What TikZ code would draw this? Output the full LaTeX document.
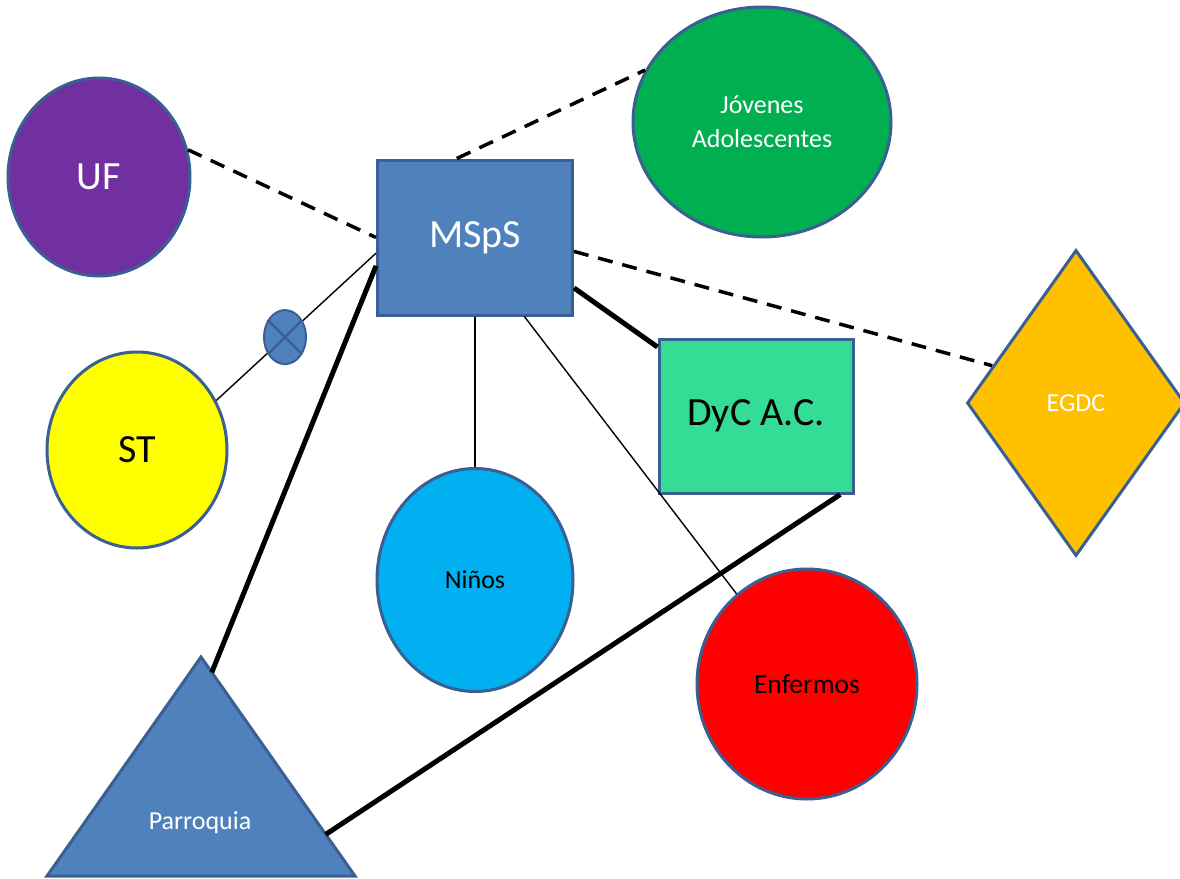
\documentclass[tikz,border=0pt]{standalone}
\usepackage{fontspec}
\setmainfont{Carlito}
\usetikzlibrary{shapes.geometric,calc}
\definecolor{bordc}{HTML}{3A5F93}
\definecolor{ufc}{HTML}{7030A0}
\definecolor{jovc}{HTML}{00B050}
\definecolor{mspc}{HTML}{4F81BD}
\definecolor{egdc}{HTML}{FFC000}
\definecolor{dycc}{HTML}{34DC96}
\definecolor{stc}{HTML}{FFFF00}
\definecolor{ninc}{HTML}{00B0F0}
\definecolor{enfc}{HTML}{FF0000}
\tikzset{
  shapebox/.style={draw=bordc, line width=3pt, inner sep=0pt},
  ell/.style={shapebox, ellipse},
  rectbox/.style={shapebox, rectangle},
  bigtxt/.style={font=\fontsize{40}{48}\selectfont},
  smalltxt/.style={font=\fontsize{26}{34}\selectfont},
  dashline/.style={line width=3.5pt, dash pattern=on 15pt off 10pt},
  thinline/.style={line width=1.4pt},
  thickline/.style={line width=5pt},
}
\begin{document}
\begin{tikzpicture}[x=1pt,y=-1pt]
\useasboundingbox (0,0) rectangle (1180,878);
% nodes
\node[ell, fill=ufc, minimum width=182, minimum height=198, text=white, bigtxt] (UF) at (99,177) {UF};
\node[ell, fill=jovc, minimum width=258, minimum height=230, text=white, smalltxt, align=center] (Jov) at (762,122) {Jóvenes\\Adolescentes};
\node[rectbox, fill=mspc, minimum width=195, minimum height=155, text=white, bigtxt] (MSpS) at (475,237.5) {MSpS};
\node[shapebox, diamond, fill=egdc, minimum width=218, minimum height=306, text=white, smalltxt] (EGDC) at (1076,403) {EGDC};
\node[rectbox, fill=dycc, minimum width=194, minimum height=154, text=black, bigtxt] (DyC) at (756,416) {DyC A.C.};
\node[ell, fill=stc, minimum width=180, minimum height=196, text=black, bigtxt] (ST) at (137,450) {ST};
\node[ell, fill=ninc, minimum width=196, minimum height=223, text=black, smalltxt] (Ninos) at (475,580) {Niños};
\node[ell, fill=enfc, minimum width=220, minimum height=230, text=black, font=\fontsize{27.5}{33}\selectfont] (Enf) at (807,684) {Enfermos};
% triangle
\coordinate (PA) at (201,657);
\coordinate (PL) at (47,876);
\coordinate (PR) at (355,876);
\filldraw[fill=mspc, draw=bordc, line width=3pt, line join=miter] (PA) -- (PL) -- (PR) -- cycle;
\node[text=white, smalltxt] (Parr) at (200,823) {Parroquia};
\coordinate (PtopR) at ($(PA)!0.07!(PR)$);
\coordinate (PlowR) at ($(PA)!0.81!(PR)$);
% connectors
\draw[dashline] (UF.17) -- (MSpS.west);
\draw[dashline] (MSpS.103) -- (Jov.156);
\draw[dashline] (MSpS.-8.5) -- (EGDC.156);
\draw[thinline] (MSpS.189) -- (ST.32)
  node[pos=0.57, ell, fill=mspc, line width=2pt, minimum width=42, minimum height=54] (X) {};
\draw[bordc, line width=2.5pt] (X.45) -- (X.225) (X.135) -- (X.315);
\draw[thickline] (MSpS.196) -- (PtopR);
\draw[thickline] (MSpS.-27.5) -- (DyC.145.5);
\draw[thinline] (MSpS.south) -- (Ninos.north);
\draw[thinline] (MSpS.-58) -- (Enf.128.7);
\draw[thickline] (DyC.-43.2) -- (PlowR);
\end{tikzpicture}
\end{document}
